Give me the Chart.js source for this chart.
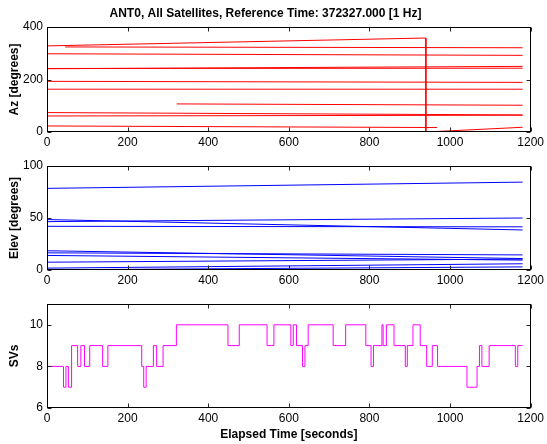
<!DOCTYPE html>
<html><head><meta charset="utf-8">
<script src="https://cdn.jsdelivr.net/npm/chart.js@4/dist/chart.umd.min.js"></script>
<style>
html,body{margin:0;padding:0;background:#fff;}
#wrap{position:relative;width:547px;height:444px;overflow:hidden;background:#fff;}
canvas{position:absolute;left:0;}
</style></head><body>
<div id="wrap">
<canvas id="c1" width="547" height="150" style="top:0px"></canvas>
<canvas id="c2" width="547" height="138" style="top:150px"></canvas>
<canvas id="c3" width="547" height="156" style="top:288px"></canvas>
</div>
<script>
// ---------- text ----------
const chartTitle = 'ANT0, All Satellites, Reference Time: 372327.000 [1 Hz]';
const azLabel = 'Az [degrees]';
const elLabel = 'Elev [degrees]';
const svLabel = 'SVs';
const xLabel = 'Elapsed Time [seconds]';

// ---------- axes ----------
const xRange = [0, 1200];  const xStep = 200;
const azRange = [0, 400];  const azStep = 200;
const elRange = [0, 100];  const elStep = 50;
const svRange = [6, 11];   const svStep = 2;

// ---------- azimuth traces (time s, azimuth deg) ----------
const az1T = [0, 940, 940, 1180], az1V = [328, 358, 0, 18];
const az2T = [45, 1180],  az2V = [324, 321];
const az3T = [0, 1180],   az3V = [298, 292];
const az4T = [0, 1180],   az4V = [241, 250];
const az5T = [0, 1180],   az5V = [242, 243];
const az6T = [0, 1180],   az6V = [193, 189];
const az7T = [0, 1180],   az7V = [163, 163];
const az8T = [322, 1180], az8V = [107, 102];
const az9T = [0, 1180],   az9V = [74, 65];
const az10T = [0, 1180],  az10V = [61, 64];
const az11T = [0, 968],   az11V = [23, 17];

// ---------- elevation traces (time s, elevation deg) ----------
const el1T = [0, 1180],   el1V = [78.5, 84.5];
const el2T = [0, 1180],   el2V = [48.5, 38.5];
const el3T = [0, 1180],   el3V = [46.5, 50];
const el4T = [0, 1180],   el4V = [42, 41.5];
const el5T = [0, 1180],   el5V = [18.5, 11];
const el6T = [0, 1180],   el6V = [16.5, 14.5];
const el7T = [0, 1180],   el7V = [14, 9.5];
const el8T = [0, 1180],   el8V = [7.5, 10.5];
const el9T = [0, 1180],   el9V = [1.8, 6];
const el10T = [0, 968],   el10V = [0.5, 0.2];
const el11T = [45, 1180], el11V = [0.3, 3];

// ---------- number of satellites (change times, new count) ----------
const svTimes = [0,1,41,47,53,61,76,84,93,106,138,151,235,240,246,264,272,288,321,449,
  477,546,563,605,611,619,634,640,648,710,741,791,804,810,831,834,842,861,889,894,
  908,926,942,956,969,1042,1067,1073,1079,1097,1162,1168,1180];
const svCounts = [9,8,7,8,7,9,8,9,8,9,8,9,8,7,8,9,8,9,10,9,
  10,9,10,9,10,9,8,9,10,9,10,9,8,9,10,9,10,9,8,9,
  10,9,8,9,8,7,8,9,8,9,8,9,9];

// ---------- build ----------
const FONT = '"Liberation Sans", Arial, Helvetica, sans-serif';
const toXY = (t, v) => t.map((x, i) => ({x: x, y: v[i]}));
const azTraces = [[az1T,az1V],[az2T,az2V],[az3T,az3V],[az4T,az4V],[az5T,az5V],[az6T,az6V],
  [az7T,az7V],[az8T,az8V],[az9T,az9V],[az10T,az10V],[az11T,az11V]];
const elTraces = [[el1T,el1V],[el2T,el2V],[el3T,el3V],[el4T,el4V],[el5T,el5V],[el6T,el6V],
  [el7T,el7V],[el8T,el8V],[el9T,el9V],[el10T,el10V],[el11T,el11V]];

const boxPlugin = {
  id: 'matlabBox',
  afterDraw(chart) {
    const ctx = chart.ctx, a = chart.chartArea, xs = chart.scales.x, ys = chart.scales.y;
    const L = Math.round(a.left) + 0.5, R = Math.round(a.right) - 0.5;
    const T = Math.round(a.top) + 0.5, B = Math.round(a.bottom) - 0.5;
    ctx.save();
    ctx.lineWidth = 1;
    ctx.strokeStyle = '#262626';
    ctx.beginPath();
    xs.ticks.forEach(tk => {
      const p = Math.round(xs.getPixelForValue(tk.value)) + 0.5;
      ctx.moveTo(p, B); ctx.lineTo(p, B - 4);
      ctx.moveTo(p, T); ctx.lineTo(p, T + 4);
    });
    ys.ticks.forEach(tk => {
      const p = Math.round(ys.getPixelForValue(tk.value)) + 0.5;
      ctx.moveTo(L, p); ctx.lineTo(L + 4, p);
      ctx.moveTo(R, p); ctx.lineTo(R - 4, p);
    });
    ctx.stroke();
    ctx.strokeStyle = '#000';
    ctx.strokeRect(L, T, R - L, B - T);
    ctx.restore();
  }
};

const plain = v => String(v);

function makeOptions(yRange, yStep, yTitle, xTitle, topTitle, xHeight) {
  return {
    responsive: false, animation: false, events: [],
    layout: {padding: {left: 0, right: 16, top: topTitle ? 0 : 16, bottom: 0}},
    plugins: {
      legend: {display: false}, tooltip: {enabled: false},
      title: topTitle ? {display: true, text: topTitle, color: '#000',
        font: {family: FONT, size: 12, weight: 'bold', lineHeight: 1.2},
        padding: {top: 6, bottom: 6.6}} : {display: false}
    },
    scales: {
      x: {
        type: 'linear', min: xRange[0], max: xRange[1],
        grid: {display: false, drawTicks: false}, border: {display: false},
        ticks: {stepSize: xStep, color: '#000', font: {family: FONT, size: 12}, padding: 3,
          maxRotation: 0, includeBounds: false, callback: plain},
        title: xTitle ? {display: true, text: xTitle, color: '#000',
          font: {family: FONT, size: 12, weight: 'bold', lineHeight: 1.2},
          padding: {top: 0, bottom: 2}} : {display: false},
        afterFit(s) { s.height = xHeight; }
      },
      y: {
        type: 'linear', min: yRange[0], max: yRange[1],
        grid: {display: false, drawTicks: false}, border: {display: false},
        ticks: {stepSize: yStep, color: '#000', font: {family: FONT, size: 12}, padding: 4,
          includeBounds: false, callback: plain},
        title: {display: true, text: yTitle, color: '#000',
          font: {family: FONT, size: 12, weight: 'bold', lineHeight: 1.2},
          padding: {top: 7, bottom: 0}},
        afterFit(s) { s.width = 47; }
      }
    }
  };
}

const lineDs = (tr, color) => ({data: toXY(tr[0], tr[1]), borderColor: color, borderWidth: 1,
  pointRadius: 0, fill: false, tension: 0});

new Chart(document.getElementById('c1'), {
  type: 'line',
  data: {datasets: azTraces.map(tr => lineDs(tr, '#ff0000'))},
  options: makeOptions(azRange, azStep, azLabel, null, chartTitle, 18),
  plugins: [boxPlugin]
});
new Chart(document.getElementById('c2'), {
  type: 'line',
  data: {datasets: elTraces.map(tr => lineDs(tr, '#0000ff'))},
  options: makeOptions(elRange, elStep, elLabel, null, null, 18),
  plugins: [boxPlugin]
});
new Chart(document.getElementById('c3'), {
  type: 'line',
  data: {datasets: [Object.assign(lineDs([svTimes, svCounts], '#ff00ff'), {stepped: 'before'})]},
  options: makeOptions(svRange, svStep, svLabel, xLabel, null, 36),
  plugins: [boxPlugin]
});
</script>
</body></html>
